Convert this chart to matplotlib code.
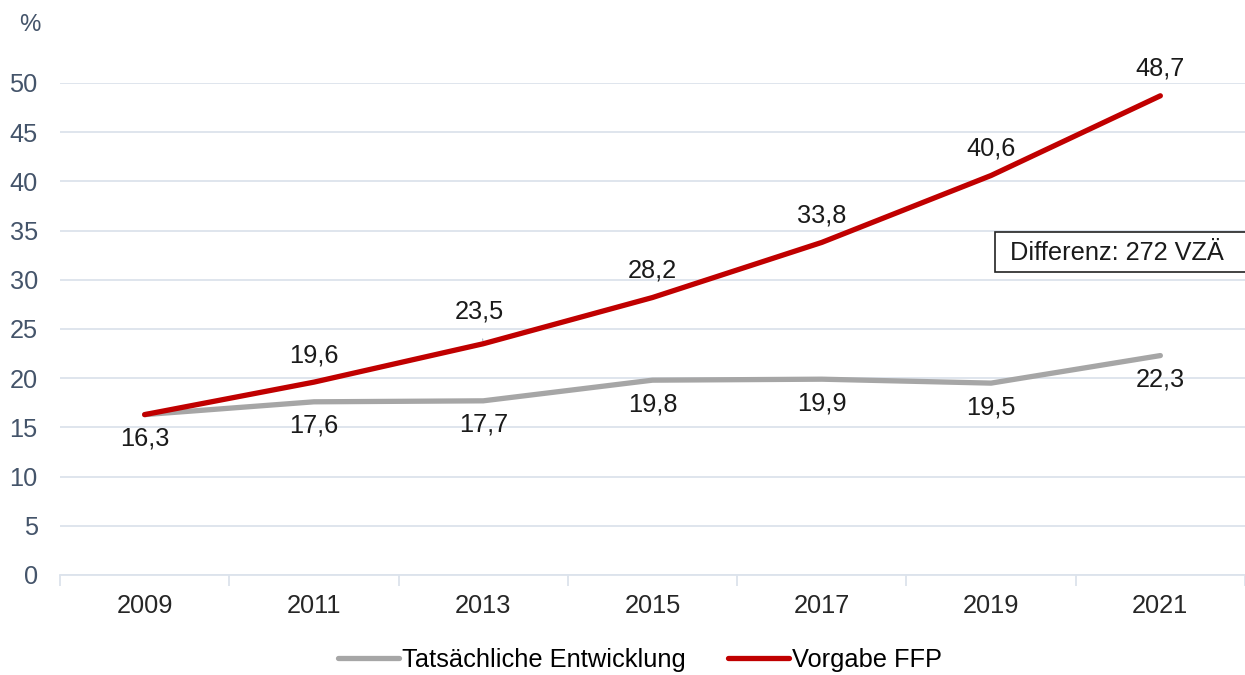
import numpy as np
import matplotlib.pyplot as plt
from matplotlib.patches import Rectangle

plt.rcParams['font.family'] = ['Liberation Sans', 'DejaVu Sans']

years = ['2009', '2011', '2013', '2015', '2017', '2019', '2021']
tatsaechlich = [16.3, 17.6, 17.7, 19.8, 19.9, 19.5, 22.3]
vorgabe = [16.3, 19.6, 23.5, 28.2, 33.8, 40.6, 48.7]
y_ticks = [0, 5, 10, 15, 20, 25, 30, 35, 40, 45, 50]

RED = '#C00000'
GRAY = '#A6A6A6'
GRID = '#DCE3EC'
SLATE = '#44546A'
FS = 18.3

W, H = 1245, 675
fig = plt.figure(figsize=(W / 100, H / 100), dpi=100)
ax = fig.add_axes([60 / W, 1 - 575 / H, (W - 60) / W, (575 - 83) / H])

x = np.arange(len(years))
l1, = ax.plot(x, tatsaechlich, color=GRAY, lw=3.8, solid_capstyle='round', zorder=3)
l2, = ax.plot(x, vorgabe, color=RED, lw=3.8, solid_capstyle='round', zorder=4)

ax.set_xlim(-0.5, -0.5 + (W - 60) / 170.3)
ax.set_ylim(0, 50)
ax.set_yticks(y_ticks)
ax.set_yticklabels([str(v) for v in y_ticks], color=SLATE, fontsize=FS)
ax.tick_params(axis='y', length=0, pad=16)
ax.set_xticks(x)
ax.set_xticklabels(years, fontsize=FS, color='#262626')
ax.tick_params(axis='x', length=0, pad=14)
ax.set_xticks(np.arange(-0.5, len(years), 1), minor=True)
ax.tick_params(axis='x', which='minor', length=8, color=GRID, width=1.3)

ax.grid(axis='y', color=GRID, lw=1.3)
ax.set_axisbelow(True)
for s in ['left', 'right', 'top']:
    ax.spines[s].set_visible(False)
ax.spines['bottom'].set_color(GRID)
ax.spines['bottom'].set_linewidth(1.3)

# labels
for i, v in enumerate(vorgabe):
    if i == 0:
        continue
    lab = f'{v:.1f}'.replace('.', ',')
    if i == 2:
        ax.annotate(lab, (i, v), xytext=(-4, 32), textcoords='offset pixels',
                    ha='center', va='center', fontsize=FS, color='#1a1a1a',
                    arrowprops=dict(arrowstyle='-', color='#A9B8C8', lw=0.8,
                                    shrinkA=9, shrinkB=2))
    else:
        ax.annotate(lab, (i, v), xytext=(0, 27), textcoords='offset pixels',
                    ha='center', va='center', fontsize=FS, color='#1a1a1a')
for i, v in enumerate(tatsaechlich):
    lab = f'{v:.1f}'.replace('.', ',')
    ax.annotate(lab, (i, v), xytext=(0, -24), textcoords='offset pixels',
                ha='center', va='center', fontsize=FS, color='#1a1a1a')

fig.text(30 / W, 1 - 25 / H, '%', color=SLATE, fontsize=FS - 1, ha='center', va='center')

fig.patches.append(Rectangle((995 / W, 1 - 272 / H), 280 / W, 40 / H,
                             transform=fig.transFigure, facecolor='white',
                             edgecolor='#222222', lw=1.2, zorder=5))
fig.text(1010 / W, 1 - 253 / H, 'Differenz: 272 VZÄ', fontsize=FS, color='#1a1a1a',
         ha='left', va='center', zorder=6)

fig.legend([l1, l2], ['Tatsächliche Entwicklung', 'Vorgabe FFP'], loc='center',
           bbox_to_anchor=(640 / W, 1 - 660 / H), ncol=2, frameon=False,
           fontsize=FS, handlelength=2.4, handletextpad=0.1, columnspacing=1.7)

fig.savefig('out.png', dpi=100)
